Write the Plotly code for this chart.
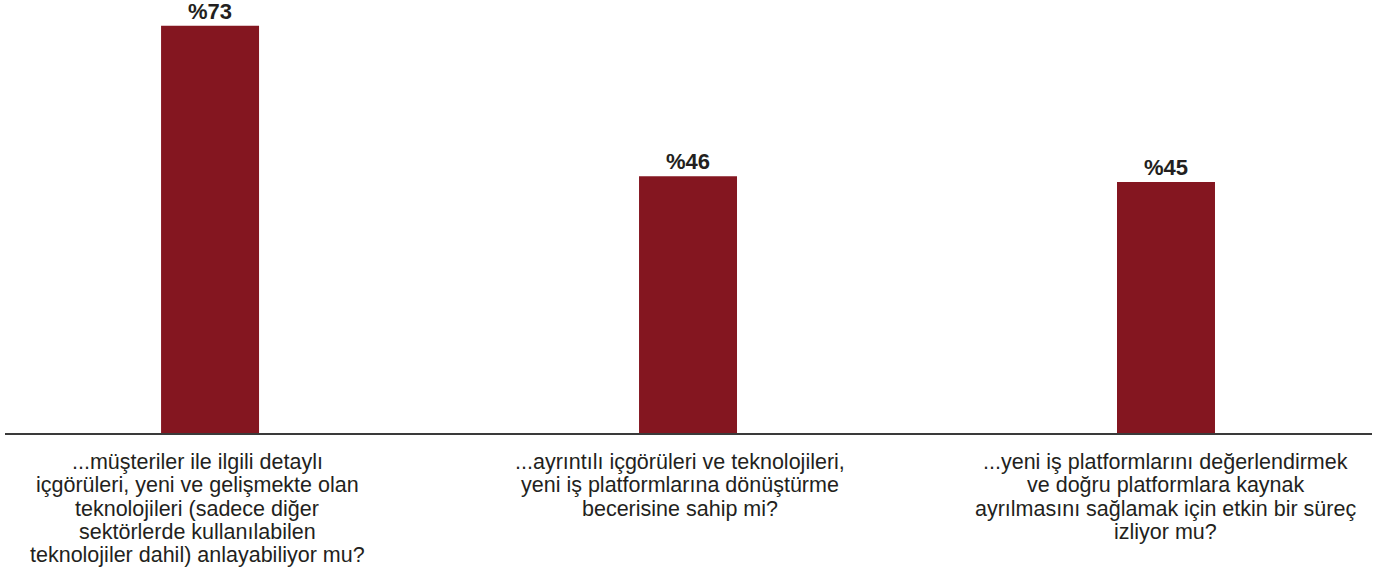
import plotly.graph_objects as go

categories = [
    ["...müşteriler ile ilgili detaylı",
     "içgörüleri, yeni ve gelişmekte olan",
     "teknolojileri (sadece diğer",
     "sektörlerde kullanılabilen",
     "teknolojiler dahil) anlayabiliyor mu?"],
    ["...ayrıntılı içgörüleri ve teknolojileri,",
     "yeni iş platformlarına dönüştürme",
     "becerisine sahip mi?"],
    ["...yeni iş platformlarını değerlendirmek",
     "ve doğru platformlara kaynak",
     "ayrılmasını sağlamak için etkin bir süreç",
     "izliyor mu?"],
]
values = [73, 46, 45]
value_labels = ["%73", "%46", "%45"]

# horizontal nudges (px) of the category text blocks, as in the reference
label_xshift = [-13, -8, 0]

xpos = list(range(len(values)))
FONT = "Liberation Sans, Arial, Helvetica, sans-serif"
TXT = "#231f20"

fig = go.Figure()
fig.add_trace(go.Bar(
    x=xpos, y=values, width=0.205,
    marker=dict(color="#841620", line=dict(width=0)),
    hoverinfo="skip",
))
for x, v, t in zip(xpos, values, value_labels):
    fig.add_annotation(x=x, y=v, text=f"<b>{t}</b>", showarrow=False,
                       yanchor="bottom", yshift=1, borderpad=0,
                       font=dict(family=FONT, size=22, color=TXT))

for x, lines, dx in zip(xpos, categories, label_xshift):
    for k, line in enumerate(lines):
        fig.add_annotation(x=x, xref="x", y=0, yref="paper", text=line,
                           showarrow=False, yanchor="middle", xshift=dx,
                           yshift=-(29.0 + 23.3 * k),
                           font=dict(family=FONT, size=21.5, color=TXT))

fig.update_layout(
    width=1380, height=575,
    margin=dict(l=5, r=8, t=0, b=142),
    paper_bgcolor="white", plot_bgcolor="white",
    showlegend=False,
    xaxis=dict(range=[-0.429, 2.431], showgrid=False, zeroline=False,
               showline=True, linecolor="#3a3a3a", linewidth=1.5,
               ticks="", showticklabels=False, automargin=False),
    yaxis=dict(range=[0, 77.6], showgrid=False, zeroline=False,
               showticklabels=False, showline=False, ticks="",
               automargin=False),
)
fig.write_html("out.html", config={"displayModeBar": False},
               post_script="document.body.style.margin='0';document.body.style.overflow='hidden';")
